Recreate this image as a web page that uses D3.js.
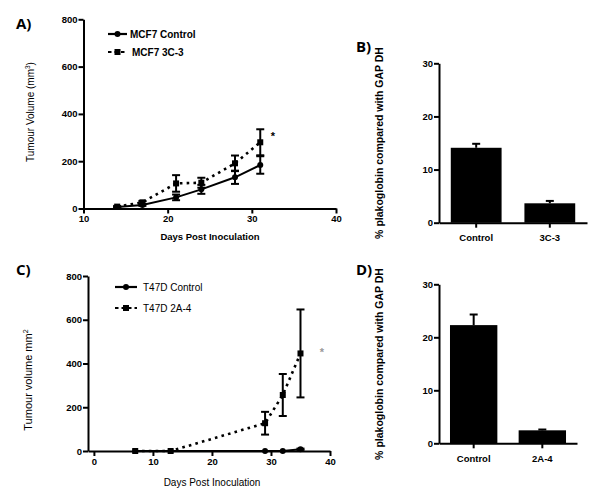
<!DOCTYPE html>
<html>
<head>
<meta charset="utf-8">
<script src="https://cdn.jsdelivr.net/npm/d3@7"></script>
<style>
  body { margin: 0; background: #fff; }
  svg { display: block; }
</style>
</head>
<body>
<div id="wrapper"></div>
<script>
// data

// A) MCF7 tumour volume (mm3)
const mcfDays = [14, 17, 21, 24, 28, 31];
const mcfControl = [6, 15, 47, 81, 132, 184];
const mcfControlErr = [2, 4, 12, 19, 28, 37];
const mcf3C3 = [8, 26, 106, 109, 191, 280];
const mcf3C3Err = [3, 6, 35, 21, 33, 55];

// C) T47D tumour volume (mm2)
const t47Days = [7, 13, 29, 32, 35];
const t47Control = [0, 0, 0, 0, 8];
const t47ControlErr = [0, 0, 0, 0, 3];
const t472A4 = [0, 0, 127, 256, 446];
const t472A4Err = [0, 0, 52, 96, 201];

// B) and D) % plakoglobin
const barCatsB = ["Control", "3C-3"];
const barValsB = [14.1, 3.65];
const barErrB = [0.75, 0.45];
const barCatsD = ["Control", "2A-4"];
const barValsD = [22.3, 2.45];
const barErrD = [2.0, 0.15];

const volTicks = [0, 200, 400, 600, 800];
const pctTicks = [0, 10, 20, 30];
const dayTicksA = [10, 20, 30, 40];
const dayTicksC = [0, 10, 20, 30, 40];

const FONT = "Arial, 'Liberation Sans', sans-serif";

const svg = d3.select("#wrapper")
  .append("svg")
  .attr("width", 600)
  .attr("height", 499)
  .attr("font-family", FONT);

function styleAxis(g, size, weight) {
  g.attr("font-family", FONT).attr("font-size", size).attr("font-weight", weight);
  g.select(".domain").attr("stroke-width", 2).attr("stroke", "#000");
  g.selectAll(".tick line").attr("stroke-width", 2).attr("stroke", "#000");
  g.selectAll(".tick text").attr("fill", "#000");
}

function errorBars(g, data, x, y, both) {
  const cap = 4;
  data.forEach(d => {
    if (!d.e) return;
    const top = y(d.v + d.e);
    const bot = both ? y(d.v - d.e) : y(d.v);
    const cx = x(d.x);
    g.append("line").attr("x1", cx).attr("x2", cx).attr("y1", top).attr("y2", bot)
      .attr("stroke", "#000").attr("stroke-width", 2);
    g.append("line").attr("x1", cx - cap).attr("x2", cx + cap).attr("y1", top).attr("y2", top)
      .attr("stroke", "#000").attr("stroke-width", 2);
    if (both) {
      g.append("line").attr("x1", cx - cap).attr("x2", cx + cap).attr("y1", bot).attr("y2", bot)
        .attr("stroke", "#000").attr("stroke-width", 2);
    }
  });
}

function drawLinePanel(cfg) {
  const g = svg.append("g");
  const x = cfg.x, y = cfg.y;

  // axes
  const yAxis = g.append("g")
    .attr("transform", `translate(${x.range()[0]},0)`)
    .call(d3.axisLeft(y).tickValues(volTicks).tickSize(5).tickPadding(1).tickSizeOuter(0));
  styleAxis(yAxis, 9.5, "bold");

  const xAxis = g.append("g")
    .attr("transform", `translate(0,${y.range()[0]})`)
    .call(d3.axisBottom(x).tickValues(cfg.xTicks).tickSize(5).tickPadding(2).tickSizeOuter(0));
  styleAxis(xAxis, 9.5, "bold");

  const line = d3.line()
    .x(d => x(d.x))
    .y(d => y(d.v));

  cfg.series.forEach(s => {
    const data = cfg.days.map((day, i) => ({ x: day, v: s.values[i], e: s.errs[i] }));
    g.append("path")
      .datum(data)
      .attr("d", line)
      .attr("fill", "none")
      .attr("stroke", "#000")
      .attr("stroke-width", s.dotted ? 2.6 : 2)
      .attr("stroke-dasharray", s.dotted ? "2.6,4.2" : null);
    errorBars(g, data, x, y, true);
    data.forEach(d => {
      if (s.dotted) {
        g.append("rect").attr("x", x(d.x) - 3).attr("y", y(d.v) - 3)
          .attr("width", 6).attr("height", 6).attr("fill", "#000");
      } else {
        g.append("circle").attr("cx", x(d.x)).attr("cy", y(d.v)).attr("r", 3).attr("fill", "#000");
      }
    });
  });

  // legend
  cfg.series.forEach((s, i) => {
    const ly = cfg.legend.y + i * cfg.legend.gap;
    const lx = cfg.legend.x;
    g.append("line").attr("x1", lx).attr("x2", lx + cfg.legend.len).attr("y1", ly).attr("y2", ly)
      .attr("stroke", "#000").attr("stroke-width", 2.2)
      .attr("stroke-dasharray", s.dotted ? "3.5,3" : null);
    const mx = lx + cfg.legend.len / 2;
    if (s.dotted) {
      g.append("rect").attr("x", mx - 3).attr("y", ly - 3).attr("width", 6).attr("height", 6).attr("fill", "#000");
    } else {
      g.append("circle").attr("cx", mx).attr("cy", ly).attr("r", 3).attr("fill", "#000");
    }
    g.append("text").attr("x", cfg.legend.tx + (s.dotted ? cfg.legend.shift : 0)).attr("y", ly + 3.5)
      .attr("font-size", 10).attr("font-weight", cfg.legend.weight)
      .text(s.name);
  });

  // titles
  g.append("text")
    .attr("x", cfg.xLabel.x).attr("y", cfg.xLabel.y)
    .attr("text-anchor", "middle")
    .attr("font-size", cfg.xLabel.size).attr("font-weight", cfg.xLabel.weight)
    .text("Days Post Inoculation");

  const yl = g.append("text")
    .attr("transform", `translate(${cfg.yLabel.x},${cfg.yLabel.y}) rotate(-90)`)
    .attr("text-anchor", "middle")
    .attr("font-size", cfg.yLabel.size);
  yl.append("tspan").text(cfg.yLabel.text);
  yl.append("tspan").attr("font-size", cfg.yLabel.size * 0.65).attr("dy", -4).text(cfg.yLabel.sup);
  if (cfg.yLabel.tail) yl.append("tspan").attr("dy", 4).text(cfg.yLabel.tail);

  g.append("text").attr("x", cfg.star.x).attr("y", cfg.star.y)
    .attr("font-size", 11).attr("font-weight", "bold").attr("fill", cfg.star.color)
    .attr("text-anchor", "middle").text("*");

  g.append("text").attr("x", cfg.tag.x).attr("y", cfg.tag.y)
    .attr("font-family", "'Open Sans', sans-serif")
    .attr("font-size", 15).attr("font-weight", "bold").text(cfg.tag.text);
}

function drawBarPanel(cfg) {
  const g = svg.append("g");
  const x = d3.scaleBand().domain(cfg.cats).range(cfg.xRange)
    .paddingInner(0.31).paddingOuter(0.16);
  const y = d3.scaleLinear().domain([0, 30]).range(cfg.yRange);

  g.selectAll(".bar")
    .data(cfg.cats)
    .join("rect")
    .attr("x", d => x(d))
    .attr("width", x.bandwidth())
    .attr("y", (d, i) => y(cfg.vals[i]))
    .attr("height", (d, i) => y(0) - y(cfg.vals[i]))
    .attr("fill", "#000");

  const data = cfg.cats.map((c, i) => ({ x: c, v: cfg.vals[i], e: cfg.errs[i] }));
  errorBars(g, data, d => x(d) + x.bandwidth() / 2, y, false);

  const yAxis = g.append("g")
    .attr("transform", `translate(${cfg.xRange[0]},0)`)
    .call(d3.axisLeft(y).tickValues(pctTicks).tickSize(5).tickPadding(1).tickSizeOuter(0));
  styleAxis(yAxis, 9.5, "bold");

  const xAxis = g.append("g")
    .attr("transform", `translate(0,${cfg.yRange[0]})`)
    .call(d3.axisBottom(x).tickSize(5).tickPadding(7).tickSizeOuter(0));
  styleAxis(xAxis, 9.5, "bold");

  g.append("text")
    .attr("transform", `translate(${cfg.yLabel.x},${cfg.yLabel.y}) rotate(-90)`)
    .attr("text-anchor", "middle")
    .attr("font-size", 10.5).attr("font-weight", "bold")
    .text("% plakoglobin compared with GAP DH");

  g.append("text").attr("x", cfg.tag.x).attr("y", cfg.tag.y)
    .attr("font-family", "'Open Sans', sans-serif")
    .attr("font-size", 15).attr("font-weight", "bold").text(cfg.tag.text);
}

// A)
drawLinePanel({
  x: d3.scaleLinear().domain([10, 40]).range([83.5, 336]),
  y: d3.scaleLinear().domain([0, 800]).range([208.5, 19.3]),
  xTicks: dayTicksA,
  days: mcfDays,
  series: [
    { name: "MCF7 Control", values: mcfControl, errs: mcfControlErr, dotted: false },
    { name: "MCF7 3C-3", values: mcf3C3, errs: mcf3C3Err, dotted: true }
  ],
  legend: { x: 108, len: 19, y: 34, gap: 18, tx: 130, shift: 2, weight: "bold" },
  xLabel: { x: 210, y: 240, size: 9.5, weight: "bold" },
  yLabel: { x: 34, y: 112, size: 10, text: "Tumour Volume (mm", sup: "3", tail: ")" },
  star: { x: 273, y: 140, color: "#000" },
  tag: { x: 16, y: 29, text: "A)" }
});

// C)
drawLinePanel({
  x: d3.scaleLinear().domain([-1, 40]).range([88, 330]),
  y: d3.scaleLinear().domain([0, 800]).range([451, 276]),
  xTicks: dayTicksC,
  days: t47Days,
  series: [
    { name: "T47D Control", values: t47Control, errs: t47ControlErr, dotted: false },
    { name: "T47D 2A-4", values: t472A4, errs: t472A4Err, dotted: true }
  ],
  legend: { x: 115, len: 22, y: 287, gap: 21, tx: 143, shift: 0, weight: "normal" },
  xLabel: { x: 212, y: 486, size: 10, weight: "normal" },
  yLabel: { x: 32, y: 380, size: 11, text: "Tumour volume mm", sup: "2", tail: "" },
  star: { x: 322, y: 356, color: "#999" },
  tag: { x: 16, y: 275, text: "C)" }
});

// B)
drawBarPanel({
  cats: barCatsB, vals: barValsB, errs: barErrB,
  xRange: [439, 587], yRange: [222.7, 63.3],
  yLabel: { x: 383, y: 143 },
  tag: { x: 356, y: 52, text: "B)" }
});

// D)
drawBarPanel({
  cats: barCatsD, vals: barValsD, errs: barErrD,
  xRange: [439, 577], yRange: [443.3, 284.3],
  yLabel: { x: 383, y: 364 },
  tag: { x: 356, y: 275, text: "D)" }
});
</script>
</body>
</html>
